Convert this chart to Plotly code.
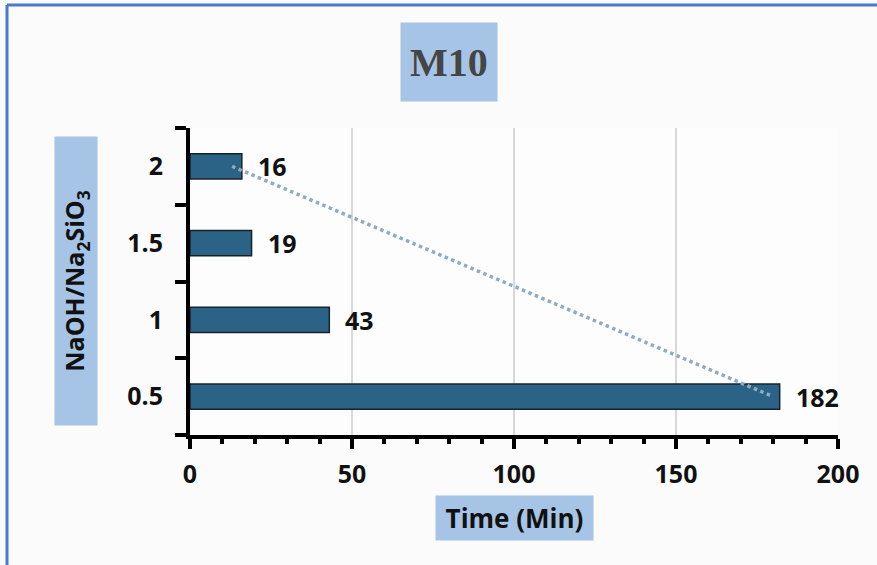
import plotly.graph_objects as go

# Ratio categories (bottom to top) and setting times in minutes
ratios = ["0.5", "1", "1.5", "2"]
times = [182, 43, 19, 16]

# Trend line end points (time, ratio)
trend_times = [13, 180]
trend_ratios = ["2", "0.5"]

x_ticks = [0, 50, 100, 150, 200]

W, H = 877, 565
L, R, T, B = 190, 39, 128, 130
pw, ph = W - L - R, H - T - B

bar_color = "#2a6386"
box_color = "#a6c4e6"
font_sans = "Open Sans"


def px_x(px):
    return (px - L) / pw


def px_y(py):
    return (H - B - py) / ph


fig = go.Figure()

fig.add_trace(go.Bar(
    x=times, y=ratios, orientation="h", width=0.33,
    marker=dict(color=bar_color, line=dict(color="#17232c", width=1.5)),
    hoverinfo="skip", showlegend=False,
))

fig.add_trace(go.Scatter(
    x=trend_times, y=trend_ratios, mode="lines",
    line=dict(color="#8eabc2", width=3.5, dash="dot"),
    hoverinfo="skip", showlegend=False,
))

# value labels beside each bar (category axis positions are indices)
annotations = []
for t, r in zip(times, ratios):
    annotations.append(dict(
        x=t, y=ratios.index(r), xref="x", yref="y", text=f"<b>{t}</b>",
        showarrow=False, xanchor="left", yanchor="middle", xshift=14,
        font=dict(family=font_sans, size=25, color="#111"),
    ))

# title and axis titles in shaded boxes
annotations.append(dict(
    xref="paper", yref="paper", x=px_x(449), y=px_y(62),
    xanchor="center", yanchor="middle",
    text="<b>M10</b>", showarrow=False, bgcolor=box_color,
    width=96, height=78, borderpad=0,
    font=dict(family="Liberation Serif", size=40, color="#454545"),
))
annotations.append(dict(
    xref="paper", yref="paper", x=px_x(514), y=px_y(518),
    xanchor="center", yanchor="middle",
    text="<b>Time (Min)</b>", showarrow=False, bgcolor=box_color,
    width=157, height=44, borderpad=0,
    font=dict(family=font_sans, size=26, color="#111"),
))
annotations.append(dict(
    xref="paper", yref="paper", x=px_x(76), y=px_y(281),
    xanchor="center", yanchor="middle",
    text="<b>NaOH/Na<sub>2</sub>SiO<sub>3</sub></b>", showarrow=False,
    bgcolor=box_color, textangle=-90, width=288, height=42, borderpad=0,
    font=dict(family=font_sans, size=25, color="#111"),
))

# blue frame along the top and left edges of the page
shapes = [
    dict(type="line", xref="paper", yref="paper",
         x0=px_x(7), x1=px_x(W), y0=px_y(5), y1=px_y(5),
         line=dict(color="#4a78cc", width=3)),
    dict(type="line", xref="paper", yref="paper",
         x0=px_x(7), x1=px_x(7), y0=px_y(5), y1=px_y(H),
         line=dict(color="#4a78cc", width=3)),
]

tick_font = dict(family=font_sans, size=25, color="#111", weight="bold")

fig.update_layout(
    width=W, height=H,
    margin=dict(l=L, r=R, t=T, b=B, autoexpand=False),
    paper_bgcolor="#fbfbfb", plot_bgcolor="#fdfdfd",
    annotations=annotations, shapes=shapes,
    xaxis=dict(
        range=[0, 200], tickvals=x_ticks, ticks="outside", ticklen=10, tickwidth=4,
        tickcolor="black", showline=True, linecolor="black", linewidth=4,
        showgrid=True, gridcolor="#d8d8d8", gridwidth=1.5, zeroline=False,
        tickfont=tick_font, ticklabelstandoff=4,
        minor=dict(dtick=10, ticks="outside", ticklen=5, tickwidth=4,
                   tickcolor="black", showgrid=False),
    ),
    yaxis=dict(
        type="category", categoryorder="array", categoryarray=ratios,
        range=[-0.5, 3.5], tickson="boundaries", ticks="outside", ticklen=11,
        tickwidth=4, tickcolor="black", showline=True, linecolor="black",
        linewidth=4, showgrid=False, zeroline=False,
        tickfont=tick_font, ticklabelstandoff=18,
    ),
    # companion axes draw the inner half of the crossing ticks
    xaxis2=dict(
        overlaying="x", anchor="y", side="bottom", range=[0, 200],
        tickvals=x_ticks, ticks="inside", ticklen=9, tickwidth=4,
        tickcolor="black", showticklabels=False, showgrid=False,
        showline=False, zeroline=False,
    ),
    yaxis2=dict(
        overlaying="y", anchor="x", side="left", range=[-0.5, 3.5],
        tickvals=[-0.5, 0.5, 1.5, 2.5, 3.5], ticks="inside", ticklen=11,
        tickwidth=4, tickcolor="black", showticklabels=False, showgrid=False,
        showline=False, zeroline=False,
    ),
    bargap=0.5,
)

fig.write_html("out.html")
